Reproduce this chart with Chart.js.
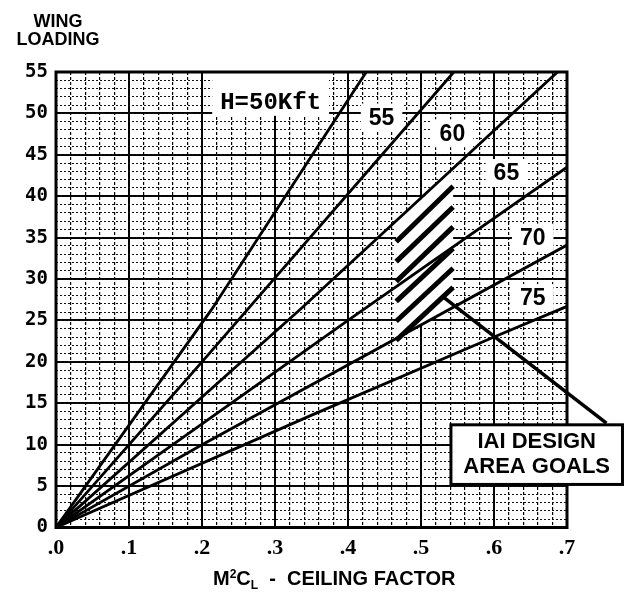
<!DOCTYPE html>
<html>
<head>
<meta charset="utf-8">
<script src="https://cdn.jsdelivr.net/npm/chart.js@4.4.1/dist/chart.umd.min.js"></script>
<style>
  html, body { margin: 0; padding: 0; background: #fff; }
  #wrap { width: 624px; height: 599px; }
</style>
</head>
<body>
<div id="wrap"><canvas id="chart" width="624" height="599"></canvas></div>
<script>
// wing loading vs ceiling factor (M^2 CL), one ray per altitude
const h50x = [0, 0.213, 0.425];
const h50y = [0, 26.3, 55];
const h55x = [0, 0.2, 0.545];
const h55y = [0, 20, 55];
const h60x = [0, 0.334, 0.687];
const h60y = [0, 26.3, 55];
const h65x = [0, 0.4, 0.7];
const h65y = [0, 25, 43.5];
const h70x = [0, 0.2, 0.7];
const h70y = [0, 10, 34.1];
const h75x = [0, 0.351, 0.6, 0.7];
const h75y = [0, 13.6, 23.0, 26.7];

// hatched design area, strokes run from hatchX[0] to hatchX[1]
const hatchX = [0.466, 0.544];
const hatchStartY = [34.5, 32.1, 29.7, 27.3, 24.9, 22.6];
const hatchEndY = [41.2, 38.7, 36.3, 33.7, 31.3, 29.0];
const hatchTopY = [36.9, 43.1];
const hatchBottomY = [22.8, 26.6];

const xTicks = [0, 0.1, 0.2, 0.3, 0.4, 0.5, 0.6, 0.7];
const yTicks = [0, 5, 10, 15, 20, 25, 30, 35, 40, 45, 50, 55];

// curve labels (text, anchor in data units)
const curveLabels = [
  ['H=50Kft', 0.294, 51.4],
  ['55', 0.446, 49.5],
  ['60', 0.543, 47.6],
  ['65', 0.617, 42.8],
  ['70', 0.653, 35.0],
  ['75', 0.653, 27.7]
];
const leader = [[0.528, 28.0], [0.754, 12.6]];
const goalBox = [0.541, 12.4, 0.776, 5.2];

function pts(xs, ys) {
  return xs.map((x, i) => ({ x: x, y: ys[i] }));
}

let datasets = [
  pts(h50x, h50y), pts(h55x, h55y), pts(h60x, h60y),
  pts(h65x, h65y), pts(h70x, h70y), pts(h75x, h75y)
].map(d => ({
  data: d, borderColor: '#000', borderWidth: 2.8, pointRadius: 0
}));

hatchStartY.forEach((y0, i) => {
  datasets.push({
    data: [{ x: hatchX[0], y: y0 }, { x: hatchX[1], y: hatchEndY[i] }],
    borderColor: '#000', borderWidth: 5, borderCapStyle: 'butt', pointRadius: 0
  });
});

const decor = {
  id: 'decor',
  beforeDatasetsDraw(chart) {
    const { ctx, chartArea: a, scales: { x, y } } = chart;
    ctx.save();
    ctx.fillStyle = '#fff';
    // blank out the grid under the hatch
    ctx.beginPath();
    ctx.moveTo(x.getPixelForValue(hatchX[0]), y.getPixelForValue(hatchBottomY[0]));
    ctx.lineTo(x.getPixelForValue(hatchX[0]), y.getPixelForValue(hatchTopY[0]));
    ctx.lineTo(x.getPixelForValue(hatchX[1]), y.getPixelForValue(hatchTopY[1]));
    ctx.lineTo(x.getPixelForValue(hatchX[1]), y.getPixelForValue(hatchBottomY[1]));
    ctx.closePath();
    ctx.fill();
    // blank boxes behind labels
    curveLabels.forEach(([t, lx, ly], i) => {
      ctx.font = i === 0 ? 'bold 24px "Liberation Mono"' : 'bold 23px "Liberation Sans"';
      const w = ctx.measureText(t).width;
      const px = x.getPixelForValue(lx), py = y.getPixelForValue(ly);
      const top = i === 0 ? a.top : py - 14;
      ctx.fillRect(px - w / 2 - 8, top, w + 16, py + 14 - top);
    });
    ctx.strokeStyle = '#000';
    ctx.lineWidth = 3;
    ctx.strokeRect(a.left, a.top, a.right - a.left, a.bottom - a.top);
    ctx.restore();
  },
  afterDatasetsDraw(chart) {
    const { ctx, scales: { x, y } } = chart;
    ctx.save();
    ctx.fillStyle = '#000';
    ctx.textAlign = 'center';
    ctx.textBaseline = 'middle';
    curveLabels.forEach(([t, lx, ly], i) => {
      ctx.font = i === 0 ? 'bold 24px "Liberation Mono"' : 'bold 23px "Liberation Sans"';
      ctx.fillText(t, x.getPixelForValue(lx), y.getPixelForValue(ly) + 1);
    });

    // leader line to the goals box
    ctx.strokeStyle = '#000';
    ctx.lineWidth = 3.5;
    ctx.beginPath();
    ctx.moveTo(x.getPixelForValue(leader[0][0]), y.getPixelForValue(leader[0][1]));
    ctx.lineTo(x.getPixelForValue(leader[1][0]), y.getPixelForValue(leader[1][1]));
    ctx.stroke();

    const bx0 = x.getPixelForValue(goalBox[0]), by0 = y.getPixelForValue(goalBox[1]);
    const bx1 = x.getPixelForValue(goalBox[2]), by1 = y.getPixelForValue(goalBox[3]);
    ctx.fillStyle = '#fff';
    ctx.fillRect(bx0, by0, bx1 - bx0, by1 - by0);
    ctx.lineWidth = 3;
    ctx.strokeRect(bx0, by0, bx1 - bx0, by1 - by0);
    ctx.fillStyle = '#000';
    ctx.font = 'bold 22px "Liberation Sans"';
    ctx.textBaseline = 'alphabetic';
    const cx = (bx0 + bx1) / 2;
    ctx.fillText('IAI DESIGN', cx, by0 + 23);
    ctx.fillText('AREA GOALS', cx, by0 + 48);

    // axis titles
    ctx.font = 'bold 18px "Liberation Sans"';
    ctx.fillText('WING', 58, 27);
    ctx.fillText('LOADING', 58, 45);

    ctx.textAlign = 'left';
    let tx = 213;
    const base = 585;
    const big = 'bold 20px "Liberation Sans"', small = 'bold 12px "Liberation Sans"';
    [['M', big, 0], ['2', small, -7], ['C', big, 0], ['L', small, 4], ['  -  CEILING FACTOR', big, 0]]
      .forEach(([s, f, dy]) => {
        ctx.font = f;
        ctx.fillText(s, tx, base + dy);
        tx += ctx.measureText(s).width;
      });
    ctx.restore();
  }
};

new Chart(document.getElementById('chart').getContext('2d'), {
  type: 'line',
  data: { datasets: datasets },
  options: {
    responsive: false,
    animation: false,
    layout: { padding: { top: 72, right: 57, left: 0, bottom: 0 } },
    plugins: { legend: { display: false }, tooltip: { enabled: false } },
    scales: {
      x: {
        type: 'linear', min: 0, max: 0.7, position: 'bottom',
        afterBuildTicks: s => { s.ticks = xTicks.map(v => ({ value: v })); },
        afterFit: s => { s.height = 71.5; },
        ticks: {
          callback: v => '.' + Math.round(v * 10),
          font: { family: 'Liberation Serif', size: 22, weight: 'bold' },
          color: '#000', padding: 8, maxRotation: 0, autoSkip: false
        },
        grid: { color: '#000', lineWidth: 2, drawTicks: false },
        border: { display: false }
      },
      x2: {
        type: 'linear', axis: 'x', min: 0, max: 0.7, position: 'bottom',
        afterFit: s => { s.height = 0; },
        ticks: { display: false, stepSize: 0.02 },
        grid: { color: '#000', lineWidth: 1.2, drawTicks: false },
        border: { display: false, dash: [3, 2] }
      },
      y: {
        type: 'linear', min: 0, max: 55,
        afterBuildTicks: s => { s.ticks = yTicks.map(v => ({ value: v })); },
        afterFit: s => { s.width = 56; },
        ticks: {
          font: { family: 'DejaVu Sans Mono', size: 19, weight: 'bold' },
          color: '#000', padding: 8
        },
        grid: { color: '#000', lineWidth: 2, drawTicks: false },
        border: { display: false }
      },
      y2: {
        type: 'linear', axis: 'y', min: 0, max: 55, position: 'left',
        afterFit: s => { s.width = 0; },
        ticks: { display: false, stepSize: 1 },
        grid: { color: '#111', lineWidth: 1, drawTicks: false },
        border: { display: false, dash: [2, 2] }
      }
    }
  },
  plugins: [decor]
});
</script>
</body>
</html>
